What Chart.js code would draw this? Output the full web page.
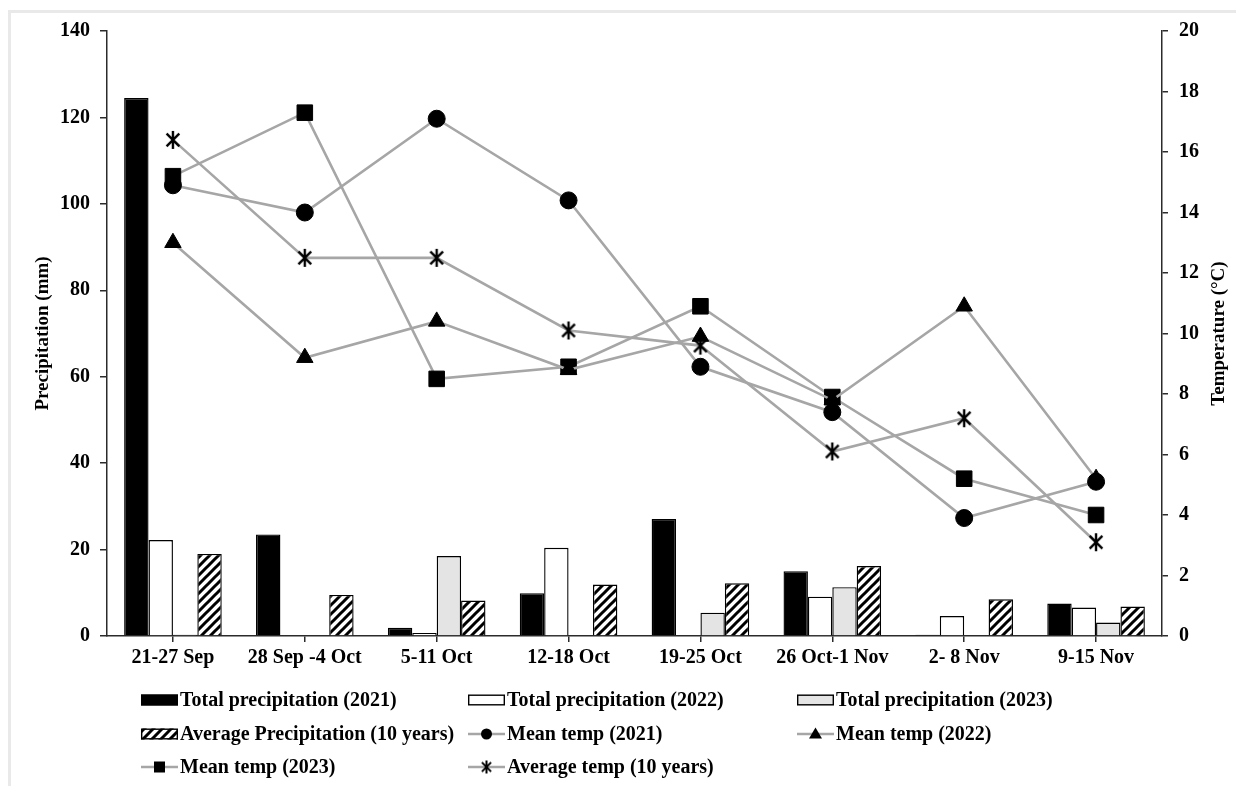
<!DOCTYPE html>
<html>
<head>
<meta charset="utf-8">
<script src="https://cdn.jsdelivr.net/npm/chart.js@4.4.1/dist/chart.umd.min.js"></script>
<style>
  html, body { margin: 0; padding: 0; background: #fff; overflow: hidden; }
  #frame { position: absolute; left: 8px; top: 10px; width: 1400px; height: 1000px;
           border-left: 3px solid #e9e9e9; border-top: 3px solid #e9e9e9; }
  #wrap { position: absolute; left: 0; top: 0; width: 1236px; height: 786px; }
</style>
</head>
<body>
<div id="frame"></div>
<div id="wrap"><canvas id="c" width="1236" height="786"></canvas></div>
<script>
// Weekly periods
const categories = ['21-27 Sep', '28 Sep -4 Oct', '5-11 Oct', '12-18 Oct', '19-25 Oct', '26 Oct-1 Nov', '2- 8 Nov', '9-15 Nov'];

// Precipitation (mm)
const precip2021 = [124.5, 23.5, 1.9, 9.9, 27.1, 15.0, 0.3, 7.5];
const precip2022 = [22.2, 0, 0.7, 20.4, 0, 9.1, 4.6, 6.6];
const precip2023 = [0.3, 0, 18.5, 0, 5.4, 11.3, 0.2, 3.1];
const precipAvg10 = [19.0, 9.5, 8.2, 11.9, 12.2, 16.2, 8.5, 6.8];

// Temperature (°C)
const temp2021 = [14.9, 14.0, 17.1, 14.4, 8.9, 7.4, 3.9, 5.1];
const temp2022 = [13.0, 9.2, 10.4, 8.8, 9.9, 7.8, 10.9, 5.2];
const temp2023 = [15.2, 17.3, 8.5, 8.9, 10.9, 7.9, 5.2, 4.0];
const tempAvg10 = [16.4, 12.5, 12.5, 10.1, 9.6, 6.1, 7.2, 3.1];

// Axis ranges and tick steps
const precipTicks = { min: 0, max: 140, step: 20 };
const tempTicks = { min: 0, max: 20, step: 2 };

const FONT = "'Liberation Serif', 'Times New Roman', serif";
const LINE_GREY = '#a6a6a6';
const AXIS = '#2b2b2b';

const canvas = document.getElementById('c');
const ctx = canvas.getContext('2d');

// Diagonal hatch fill for the 10-year average bars
function makeHatch(size, width) {
  const t = document.createElement('canvas');
  t.width = size; t.height = size;
  const g = t.getContext('2d');
  g.fillStyle = '#fff';
  g.fillRect(0, 0, size, size);
  g.strokeStyle = '#000';
  g.lineWidth = width;
  g.lineCap = 'square';
  g.beginPath();
  g.moveTo(-size * 0.5, size * 1.5); g.lineTo(size * 1.5, -size * 0.5);
  g.moveTo(-size * 0.5, size * 0.5); g.lineTo(size * 0.5, -size * 0.5);
  g.moveTo(size * 0.5, size * 1.5); g.lineTo(size * 1.5, size * 0.5);
  g.stroke();
  return ctx.createPattern(t, 'repeat');
}
const hatch = makeHatch(9, 3);

// Six-spoke asterisk marker
function makeAsterisk(size, lw) {
  const t = document.createElement('canvas');
  t.width = size; t.height = size;
  const g = t.getContext('2d');
  const c = size / 2, r = size / 2 - 1;
  g.strokeStyle = '#000';
  g.lineWidth = lw;
  g.beginPath();
  g.moveTo(c, c - r); g.lineTo(c, c + r);
  const a = Math.PI / 4;
  const dx = r * Math.cos(a), dy = r * Math.sin(a);
  g.moveTo(c - dx, c - dy); g.lineTo(c + dx, c + dy);
  g.moveTo(c + dx, c - dy); g.lineTo(c - dx, c + dy);
  g.stroke();
  return t;
}
const asterisk = makeAsterisk(20, 2.4);
const asteriskSmall = makeAsterisk(15, 2);

function barSet(label, data, fill) {
  return {
    type: 'bar', label, data, yAxisID: 'y', order: 1,
    backgroundColor: fill, borderColor: '#000', borderWidth: 1.4,
    categoryPercentage: 0.74, barPercentage: 1.0
  };
}
function lineSet(label, data, style, radius) {
  return {
    type: 'line', label, data, yAxisID: 'y1', order: 0,
    borderColor: LINE_GREY, borderWidth: 2.6, tension: 0, fill: false,
    pointStyle: style, pointRadius: radius, pointHoverRadius: radius,
    pointBackgroundColor: '#000', pointBorderColor: '#000', pointBorderWidth: 1
  };
}

const datasets = [
  barSet('Total precipitation (2021)', precip2021, '#000'),
  barSet('Total precipitation (2022)', precip2022, '#fff'),
  barSet('Total precipitation (2023)', precip2023, '#e4e4e4'),
  barSet('Average Precipitation (10 years)', precipAvg10, hatch),
  lineSet('Mean temp (2021)', temp2021, 'circle', 8.5),
  lineSet('Mean temp (2022)', temp2022, 'triangle', 9.5),
  lineSet('Mean temp (2023)', temp2023, 'rect', 11),
  lineSet('Average temp (10 years)', tempAvg10, asterisk, 10)
];

// Right-hand axis title and the three-column legend under the plot
const panelText = {
  id: 'panelText',
  afterDraw(chart) {
    const c = chart.ctx;
    const area = chart.chartArea;
    c.save();
    c.fillStyle = '#000';
    c.font = 'bold 19px ' + FONT;
    c.textAlign = 'center';
    c.textBaseline = 'middle';
    c.translate(chart.scales.y1.right - 17, (area.top + area.bottom) / 2);
    c.rotate(-Math.PI / 2);
    c.fillText('Temperature (°C)', 0, 0);
    c.restore();

    const colX = [141, 468, 797];
    const rowY = [700, 734, 767];
    const symW = 37;
    c.save();
    c.font = 'bold 20px ' + FONT;
    c.textBaseline = 'middle';
    c.textAlign = 'left';
    chart.data.datasets.forEach((ds, i) => {
      const x = colX[i % 3];
      const y = rowY[Math.floor(i / 3)];
      if (ds.type === 'bar') {
        c.fillStyle = ds.backgroundColor;
        c.fillRect(x, y - 5.5, symW, 11);
        c.strokeStyle = '#000';
        c.lineWidth = 1.4;
        c.strokeRect(x + 0.7, y - 4.8, symW - 1.4, 9.6);
      } else {
        c.strokeStyle = LINE_GREY;
        c.lineWidth = 2.6;
        c.beginPath();
        c.moveTo(x, y); c.lineTo(x + symW, y);
        c.stroke();
        const cx = x + symW / 2;
        c.fillStyle = '#000';
        c.beginPath();
        if (ds.pointStyle === 'circle') {
          c.arc(cx, y, 5.5, 0, Math.PI * 2); c.fill();
        } else if (ds.pointStyle === 'triangle') {
          c.moveTo(cx, y - 6.5); c.lineTo(cx + 6.5, y + 4.5); c.lineTo(cx - 6.5, y + 4.5); c.closePath(); c.fill();
        } else if (ds.pointStyle === 'rect') {
          c.fillRect(cx - 5.5, y - 5.5, 11, 11);
        } else {
          c.drawImage(asteriskSmall, cx - asteriskSmall.width / 2, y - asteriskSmall.height / 2);
        }
      }
      c.fillStyle = '#000';
      c.fillText(ds.label, x + symW + 2, y + 1);
    });
    c.restore();
  }
};

const tickFont = { family: FONT, size: 20, weight: 'bold' };

new Chart(ctx, {
  data: { labels: categories, datasets },
  options: {
    responsive: false,
    devicePixelRatio: 1,
    animation: false,
    layout: { padding: { top: 31, left: 0, right: 0, bottom: 0 } },
    plugins: { legend: { display: false }, tooltip: { enabled: false } },
    scales: {
      x: {
        type: 'category',
        offset: true,
        grid: { offset: false, drawOnChartArea: false, drawTicks: true, tickLength: 6, color: AXIS, lineWidth: 1.5 },
        border: { display: true, color: AXIS, width: 1.5 },
        ticks: { font: tickFont, color: '#000', padding: 4, maxRotation: 0, autoSkip: false },
        afterFit: s => { s.height = 150; }
      },
      y: {
        position: 'left',
        min: precipTicks.min, max: precipTicks.max,
        ticks: { stepSize: precipTicks.step, font: tickFont, color: '#000', padding: 10 },
        grid: { drawOnChartArea: false, drawTicks: true, tickLength: 7, color: AXIS, lineWidth: 1.5 },
        border: { display: true, color: AXIS, width: 1.5 },
        title: { display: true, text: 'Precipitation (mm)', color: '#000',
                 font: { family: FONT, size: 19, weight: 'bold' }, padding: { top: 32, bottom: 0 } },
        afterFit: s => { s.width = 107; }
      },
      y1: {
        position: 'right',
        min: tempTicks.min, max: tempTicks.max,
        ticks: { stepSize: tempTicks.step, font: tickFont, color: '#000', padding: 11 },
        grid: { drawOnChartArea: false, drawTicks: true, tickLength: 6, color: AXIS, lineWidth: 1.5 },
        border: { display: true, color: AXIS, width: 1.5 },
        afterFit: s => { s.width = 74; }
      }
    }
  },
  plugins: [panelText]
});
</script>
</body>
</html>
